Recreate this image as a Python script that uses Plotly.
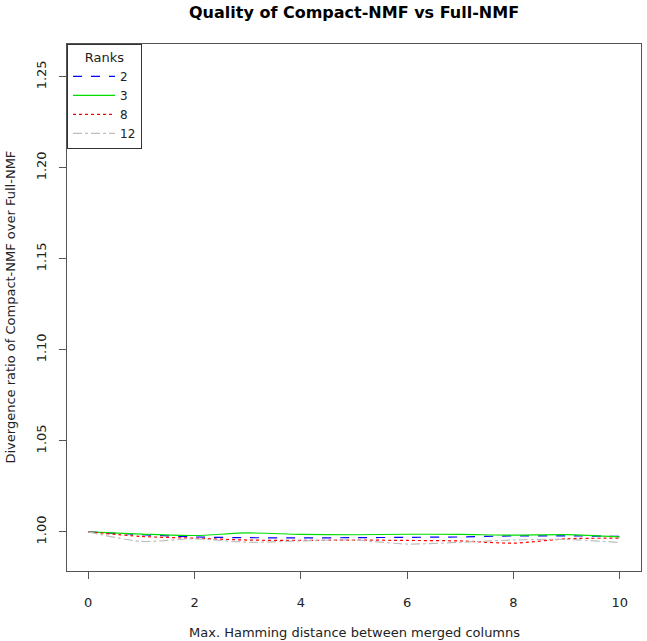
import plotly.graph_objects as go

hamming = [0, 1, 2, 3, 4, 5, 6, 7, 8, 9, 10]
rank_labels = ["2", "3", "8", "12"]
r2 = [1.000, 0.9985, 0.9972, 0.9968, 0.9967, 0.9968, 0.9970, 0.9972, 0.9978, 0.9978, 0.9975]
r3 = [1.000, 0.9988, 0.9980, 0.9994, 0.9986, 0.9984, 0.9987, 0.9986, 0.9982, 0.9985, 0.9972]
r8 = [1.000, 0.9975, 0.9965, 0.9955, 0.9953, 0.9955, 0.9953, 0.9950, 0.9938, 0.9962, 0.9965]
r12 = [1.000, 0.9948, 0.9962, 0.9943, 0.9950, 0.9955, 0.9933, 0.9943, 0.9955, 0.9958, 0.9942]
x_ticks = [0, 2, 4, 6, 8, 10]
y_ticks = [1.00, 1.05, 1.10, 1.15, 1.20, 1.25]

series = [r2, r3, r8, r12]
colors = ["#0000FF", "#00DD00", "#FF0000", "#BEBEBE"]
dashes = ["dash", "solid", "dot", "dashdot"]

fig = go.Figure()
for lab, ys, c, d in zip(rank_labels, series, colors, dashes):
    fig.add_trace(go.Scatter(x=hamming, y=ys, mode="lines", name=lab,
                             line=dict(color=c, dash=d, width=1.2, shape="spline", smoothing=0.8)))

font = "DejaVu Sans, Verdana, sans-serif"
y_range = [0.9785, 1.268]
fig.update_layout(
    width=647, height=641,
    margin=dict(l=67, r=6, t=44, b=70),
    paper_bgcolor="white", plot_bgcolor="white",
    font=dict(family=font, size=13, color="#222"),
    showlegend=True,
    legend=dict(x=0, y=1, xanchor="left", yanchor="top",
                bgcolor="white", bordercolor="#333", borderwidth=1,
                title=dict(text="Ranks", side="top center", font=dict(size=13)),
                font=dict(size=12), tracegroupgap=0, itemwidth=42),
    xaxis=dict(range=[-0.4, 10.4], tickvals=x_ticks, ticks="outside", ticklen=7,
               tickcolor="#555", showgrid=False, zeroline=False, showline=True,
               mirror=True, linecolor="#555", linewidth=1, tickfont=dict(size=13),
               ticklabelstandoff=12),
    yaxis=dict(range=y_range, tickvals=y_ticks, tickformat=".2f",
               ticks="outside", ticklen=7, tickcolor="#555", tickangle=-90,
               showgrid=False, zeroline=False, showline=True, mirror=True,
               linecolor="#555", linewidth=1, tickfont=dict(size=13),
               ticklabelstandoff=8),
    annotations=[
        dict(text="<b>Quality of Compact-NMF vs Full-NMF</b>", x=0.5, y=1.0,
             yanchor="bottom", yshift=20,
             xref="paper", yref="paper", showarrow=False, font=dict(size=16, color="black")),
        dict(text="Max. Hamming distance between merged columns", xref="x", x=5,
             yref="paper", y=0, yshift=-61, yanchor="middle", showarrow=False,
             font=dict(size=13)),
        dict(text="Divergence ratio of Compact-NMF over Full-NMF", xref="paper", x=0,
             xshift=-57, yref="y", y=sum(y_range) / 2, textangle=-90, showarrow=False,
             xanchor="center", font=dict(size=13)),
    ],
)
fig.write_html("out.html", config={"displayModeBar": False},
               post_script="document.body.style.margin='0';")
